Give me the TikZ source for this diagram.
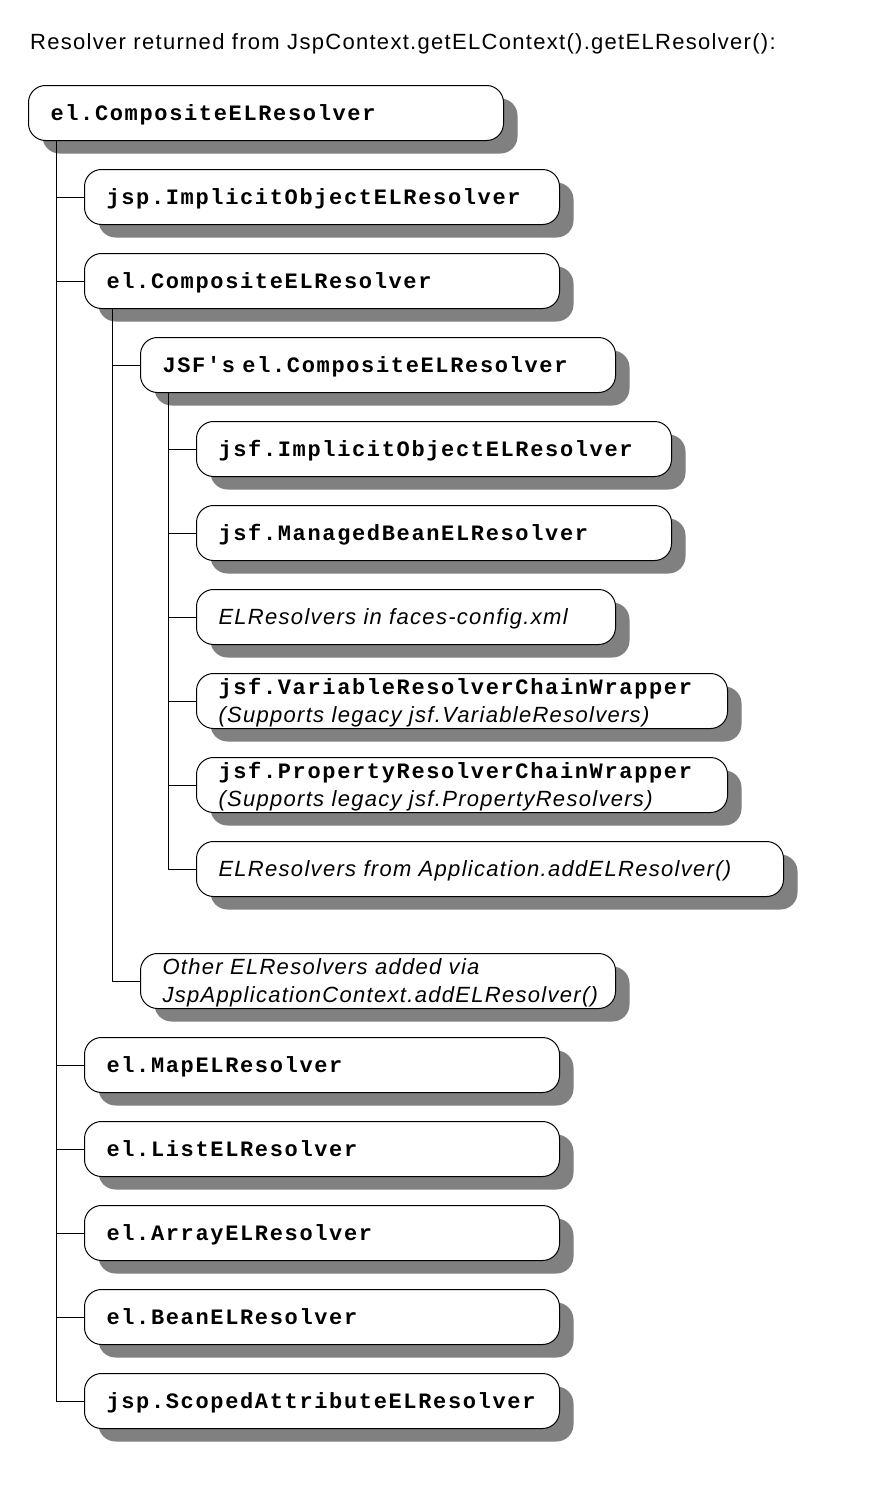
\documentclass[tikz,border=0pt]{standalone}
\usepackage{fontspec}
\setmainfont{Liberation Sans}[LetterSpace=5.9]
\setmonofont{Liberation Mono}[LetterSpace=7.5, WordSpace=1.15]
\usetikzlibrary{calc,shadows}
\definecolor{shadowgray}{RGB}{128,128,128}

\begin{document}
\begin{tikzpicture}[x=1pt,y=-1pt,
  every node/.style={font=\fontsize{22}{28}\selectfont},
  resolver/.style={draw, line width=1pt, rounded corners=17pt, fill=white,
    anchor=north west, minimum height=55pt, inner xsep=22pt, inner ysep=0pt,
    align=left, text width=#1-44pt, minimum width=#1,
    drop shadow={shadow xshift=14pt, shadow yshift=-13pt, opacity=1, fill=shadowgray}},
  resolver/.default=475pt,
  oneline/.style={text height=14pt, text depth=0pt},
  twoline/.style={text height=0pt, text depth=14pt},
  tree/.style={line width=1pt, draw=black},
]
\newcommand{\cls}[1]{{\ttfamily\bfseries\fontsize{22}{28}\selectfont #1}}

\useasboundingbox (0,0) rectangle (896,1512);

\node[anchor=base west, inner sep=0pt] (title) at (30,49)
  {Resolver returned from JspContext.getELContext().getELResolver():};

% top level composite resolver
\node[resolver, oneline] (r0) at (28,85) {\cls{el.CompositeELResolver}};

% first level
\node[resolver, oneline] (r1) at (84,169) {\cls{jsp.ImplicitObjectELResolver}};
\node[resolver, oneline] (r2) at (84,253) {\cls{el.CompositeELResolver}};

% second level
\node[resolver, oneline] (r3) at (140,337) {\cls{JSF's el.CompositeELResolver}};

% third level: the JSF chain
\node[resolver, oneline] (r4) at (196,421) {\cls{jsf.ImplicitObjectELResolver}};
\node[resolver, oneline] (r5) at (196,505) {\cls{jsf.ManagedBeanELResolver}};
\node[resolver=419pt, oneline] (r6) at (196,589) {\itshape ELResolvers in faces-config.xml};
\node[resolver=531pt, twoline] (r7) at (196,673)
  {\cls{jsf.VariableResolverChainWrapper}\\\itshape (Supports legacy jsf.VariableResolvers)};
\node[resolver=531pt, twoline] (r8) at (196,757)
  {\cls{jsf.PropertyResolverChainWrapper}\\\itshape (Supports legacy jsf.PropertyResolvers)};
\node[resolver=587pt, oneline] (r9) at (196,841) {\itshape ELResolvers from Application.addELResolver()};

% back to second level
\node[resolver, twoline] (r10) at (140,953)
  {\itshape Other ELResolvers added via\\JspApplicationContext.addELResolver()};

% remaining first level resolvers
\node[resolver, oneline] (r11) at (84,1037) {\cls{el.MapELResolver}};
\node[resolver, oneline] (r12) at (84,1121) {\cls{el.ListELResolver}};
\node[resolver, oneline] (r13) at (84,1205) {\cls{el.ArrayELResolver}};
\node[resolver, oneline] (r14) at (84,1289) {\cls{el.BeanELResolver}};
\node[resolver, oneline] (r15) at (84,1373) {\cls{jsp.ScopedAttributeELResolver}};

% tree trunks hanging from each composite
\coordinate (t0) at ($(r0.south west)+(28,0)$);
\coordinate (t2) at ($(r2.south west)+(28,0)$);
\coordinate (t3) at ($(r3.south west)+(28,0)$);

\draw[tree] (t0) |- (r15.west);
\foreach \c in {r1,r2,r11,r12,r13,r14}
  \draw[tree] (t0 |- \c.west) -- (\c.west);

\draw[tree] (t2) |- (r10.west);
\draw[tree] (t2 |- r3.west) -- (r3.west);

\draw[tree] (t3) |- (r9.west);
\foreach \c in {r4,r5,r6,r7,r8}
  \draw[tree] (t3 |- \c.west) -- (\c.west);
\end{tikzpicture}
\end{document}
